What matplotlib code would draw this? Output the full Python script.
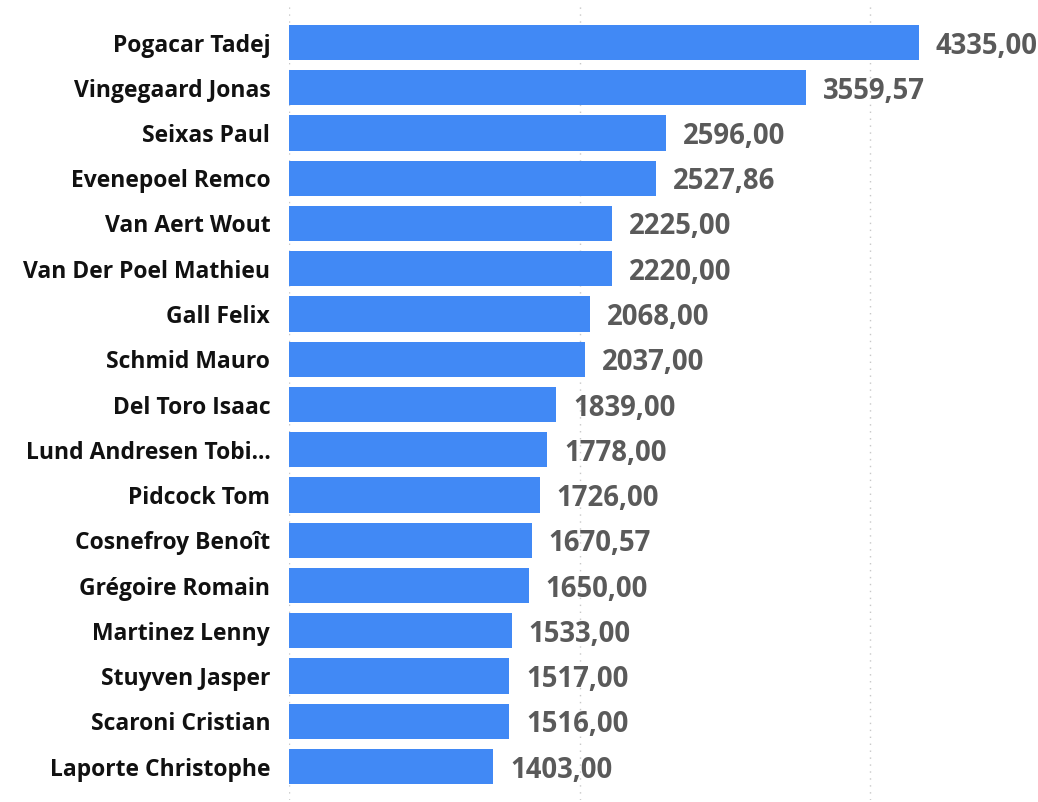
import matplotlib
matplotlib.use("Agg")
import matplotlib.pyplot as plt

riders = ["Pogacar Tadej", "Vingegaard Jonas", "Seixas Paul", "Evenepoel Remco",
          "Van Aert Wout", "Van Der Poel Mathieu", "Gall Felix", "Schmid Mauro",
          "Del Toro Isaac", "Lund Andresen Tobi...", "Pidcock Tom", "Cosnefroy Benoît",
          "Grégoire Romain", "Martinez Lenny", "Stuyven Jasper", "Scaroni Cristian",
          "Laporte Christophe"]
points = [4335.00, 3559.57, 2596.00, 2527.86, 2225.00, 2220.00, 2068.00, 2037.00,
          1839.00, 1778.00, 1726.00, 1670.57, 1650.00, 1533.00, 1517.00, 1516.00,
          1403.00]
grid_ticks = [0, 2000, 4000]

W, H = 1038, 802
fig = plt.figure(figsize=(W / 100, H / 100), dpi=100)
left, right, top, bottom = 289, 1038, 5, 800
ax = fig.add_axes([left / W, 1 - bottom / H, (right - left) / W, (bottom - top) / H])

ypos = list(range(len(riders)))
ax.barh(ypos, points, height=0.78, color="#4189F5", zorder=2)

pitch = 45.25
c0 = 42.5
ax.set_ylim((bottom - c0) / pitch, (top - c0) / pitch)
ax.set_xlim(0, (right - left) / ((919 - 289) / 4335))

ax.set_xticks(grid_ticks)
ax.xaxis.grid(True, linestyle=(0, (1, 4)), color="#c8c8c8", linewidth=1.0, zorder=0)
ax.tick_params(axis="x", length=0, labelbottom=False)
ax.tick_params(axis="y", length=0, pad=13.5)
ax.set_yticks(ypos)
ax.set_yticklabels(riders, fontfamily="Open Sans", fontweight="bold", fontsize=16.5,
                   color="#111111")
for s in ax.spines.values():
    s.set_visible(False)

for y, v in zip(ypos, points):
    txt = f"{v:.2f}".replace(".", ",")
    ax.annotate(txt, (v, y), xytext=(17, 0), textcoords="offset pixels",
                ha="left", va="center_baseline", fontfamily="Open Sans", fontweight="bold",
                fontsize=19.8, color="#5a5a5a", annotation_clip=False)

fig.savefig("out.png", dpi=100, facecolor="white")
